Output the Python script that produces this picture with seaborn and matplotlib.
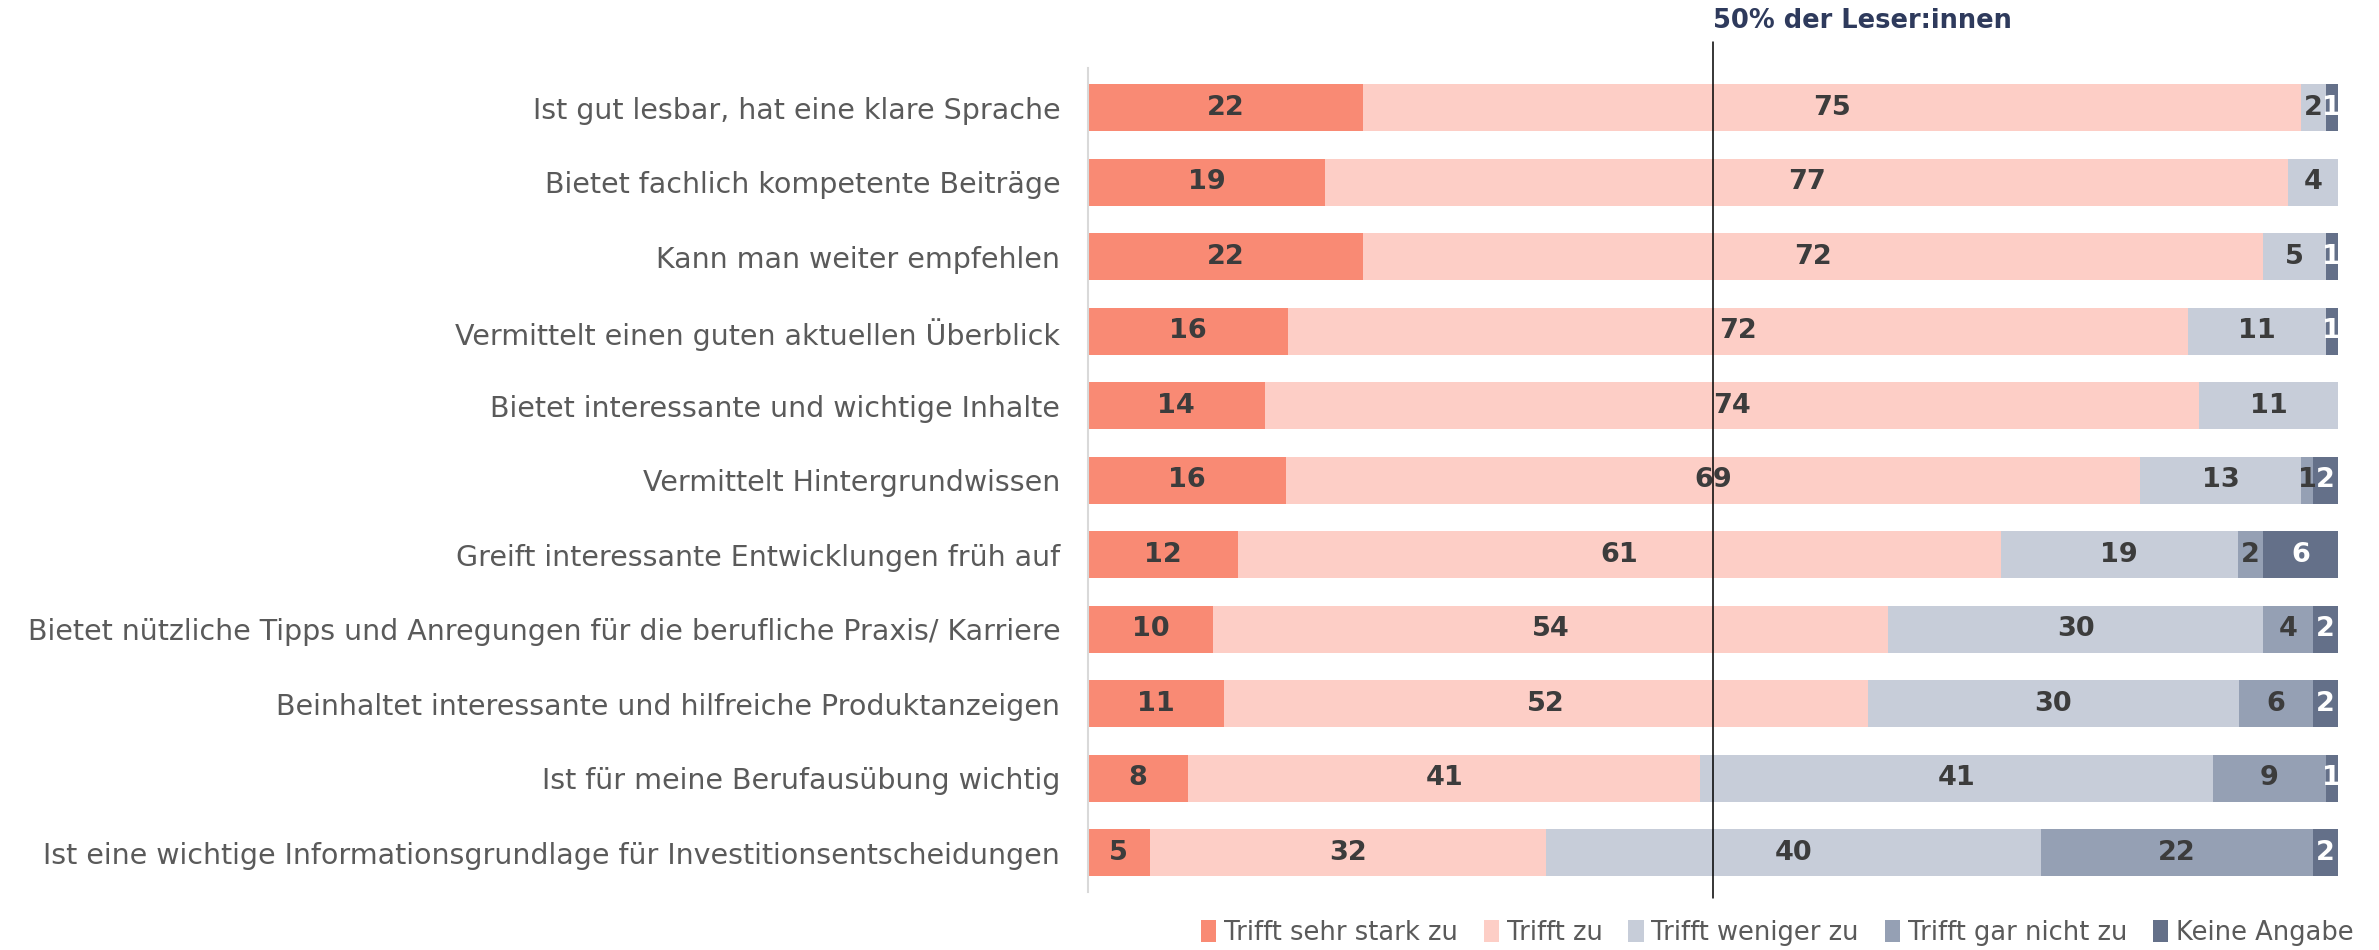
import numpy as np
import matplotlib
matplotlib.use('Agg')
import matplotlib.pyplot as plt
from matplotlib.patches import Patch
import seaborn as sns

# Aussagen (von oben nach unten)
categories = [
    "Ist gut lesbar, hat eine klare Sprache",
    "Bietet fachlich kompetente Beiträge",
    "Kann man weiter empfehlen",
    "Vermittelt einen guten aktuellen Überblick",
    "Bietet interessante und wichtige Inhalte",
    "Vermittelt Hintergrundwissen",
    "Greift interessante Entwicklungen früh auf",
    "Bietet nützliche Tipps und Anregungen für die berufliche Praxis/ Karriere",
    "Beinhaltet interessante und hilfreiche Produktanzeigen",
    "Ist für meine Berufausübung wichtig",
    "Ist eine wichtige Informationsgrundlage für Investitionsentscheidungen",
]

# Anteile in Prozent je Antwort
sehr_stark = [22, 19, 22, 16, 14, 16, 12, 10, 11, 8, 5]
trifft_zu = [75, 77, 72, 72, 74, 69, 61, 54, 52, 41, 32]
weniger = [2, 4, 5, 11, 11, 13, 19, 30, 30, 41, 40]
gar_nicht = [0, 0, 0, 0, 0, 1, 2, 4, 6, 9, 22]
keine_angabe = [1, 0, 1, 1, 0, 2, 6, 2, 2, 1, 2]

series_names = ["Trifft sehr stark zu", "Trifft zu", "Trifft weniger zu",
                "Trifft gar nicht zu", "Keine Angabe"]
colors = ["#f98a74", "#fdcec6", "#c7cdd9", "#95a0b4", "#647089"]
label_colors = ["#3c3c3c", "#3c3c3c", "#3c3c3c", "#3c3c3c", "white"]

sns.set_theme(style="white")
plt.rcParams["font.family"] = ["DejaVu Sans"]

values = np.array([sehr_stark, trifft_zu, weniger, gar_nicht, keine_angabe], dtype=float).T
# 100%-Balken: Zeilen auf 100 normieren
shares = values / values.sum(axis=1, keepdims=True) * 100
cum = np.cumsum(shares, axis=1)

fig = plt.figure(figsize=(23.79, 9.5), dpi=100)
ax = fig.add_axes([0.4573, 0.061, 0.5255, 0.867])

# gestapelte Balken: kumulierte Summen von hinten nach vorne zeichnen
for j in reversed(range(len(series_names))):
    sns.barplot(x=cum[:, j], y=categories, orient="y", color=colors[j],
                saturation=1, width=0.63, errorbar=None, linewidth=0, ax=ax)

# Werte in die Segmente schreiben
for j in range(len(series_names)):
    for i in range(len(categories)):
        v = values[i, j]
        if v <= 0:
            continue
        ax.text(cum[i, j] - shares[i, j] / 2, i, f"{int(v)}",
                ha="center", va="center", fontsize=19.5, fontweight="bold",
                color=label_colors[j])

ax.set_xlim(0, 100)
ax.set_ylim(10.53, -0.53)
ax.set_xlabel("")
ax.set_ylabel("")
ax.set_xticks([])
ax.tick_params(axis="y", length=0, pad=20, labelsize=20.5, labelcolor="#5a5a5a")

for side in ["top", "right", "bottom"]:
    ax.spines[side].set_visible(False)
ax.spines["left"].set_color("#d9d9d9")
ax.spines["left"].set_linewidth(1.5)

# 50%-Linie
ax.axvline(50, ymin=-0.007, ymax=1.032, color="black", lw=1.1, clip_on=False, zorder=5)
ax.text(50, 1.058, "50% der Leser:innen", transform=ax.get_xaxis_transform(),
        ha="left", va="center", fontsize=18.5, fontweight="bold", color="#2e3a5c")

handles = [Patch(facecolor=c, edgecolor="none") for c in colors]
fig.legend(handles, series_names, loc="center right", bbox_to_anchor=(0.999, 0.018),
           ncol=5, frameon=False, fontsize=18.5, handlelength=0.6, handleheight=0.9,
           handletextpad=0.3, columnspacing=1.0, labelcolor="#5a5a5a")

fig.savefig("out.png", dpi=100)
